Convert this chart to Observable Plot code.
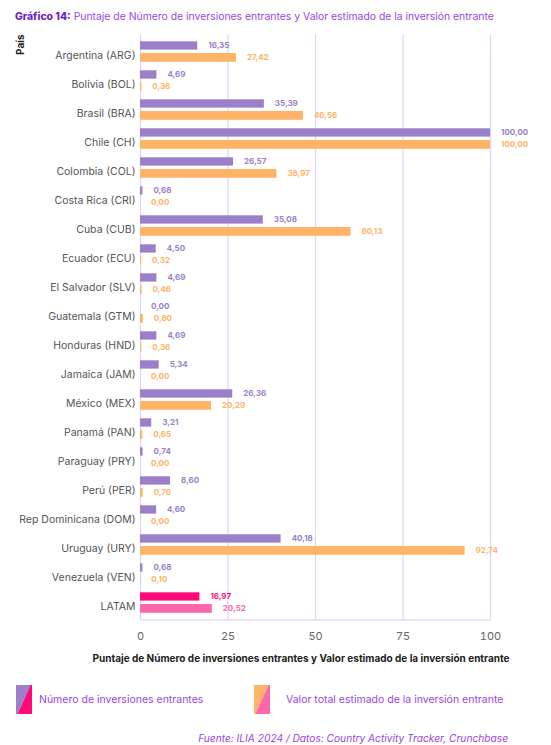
<!DOCTYPE html>
<html>
<head>
<meta charset="utf-8">
<script src="https://cdn.jsdelivr.net/npm/d3@7"></script>
<script src="https://cdn.jsdelivr.net/npm/@observablehq/plot@0.6"></script>
<style>
  html, body { margin: 0; padding: 0; background: #fff; }
  body { font-family: Inter, "Noto Sans", sans-serif; }
  #wrap { position: relative; width: 551px; height: 745px; overflow: hidden; }
  #title { position: absolute; left: 15px; top: 10px; font-size: 10.4px; line-height: 14px; color: #9a45e3; white-space: nowrap; }
  #title b { color: #6f1fcf; font-weight: 800; }
  #chart { position: absolute; left: 0; top: 30px; }
  .leg { position: absolute; top: 685px; display: flex; align-items: center; height: 29px; font-size: 10.5px; color: #9a45e3; white-space: nowrap; }
  .leg svg { display: block; }
  #footer { position: absolute; right: 43px; top: 731px; font-size: 10.2px; line-height: 14px; font-style: italic; color: #9a45e3; white-space: nowrap; }
</style>
</head>
<body>
<div id="wrap">
  <div id="title"><b>Gráfico 14:</b> Puntaje de Número de inversiones entrantes y Valor estimado de la inversión entrante</div>
  <div id="chart"></div>
  <div class="leg" id="leg1" style="left:16px;"></div>
  <div class="leg" id="leg2" style="left:254px;"></div>
  <div id="footer">Fuente: ILIA 2024 / Datos: Country Activity Tracker, Crunchbase</div>
</div>
<script>
const paises = ["Argentina (ARG)", "Bolivia (BOL)", "Brasil (BRA)", "Chile (CH)", "Colombia (COL)", "Costa Rica (CRI)", "Cuba (CUB)", "Ecuador (ECU)", "El Salvador (SLV)", "Guatemala (GTM)", "Honduras (HND)", "Jamaica (JAM)", "México (MEX)", "Panamá (PAN)", "Paraguay (PRY)", "Perú (PER)", "Rep Dominicana (DOM)", "Uruguay (URY)", "Venezuela (VEN)", "LATAM"];
const numeroInversiones = [16.35, 4.69, 35.39, 100.00, 26.57, 0.68, 35.08, 4.50, 4.69, 0.00, 4.69, 5.34, 26.36, 3.21, 0.74, 8.60, 4.60, 40.18, 0.68, 16.97];
const valorEstimado = [27.42, 0.36, 46.56, 100.00, 38.97, 0.00, 60.13, 0.32, 0.46, 0.80, 0.36, 0.00, 20.29, 0.65, 0.00, 0.76, 0.00, 92.74, 0.10, 20.52];
const xTicks = [0, 25, 50, 75, 100];
const serieNombres = ["Número de inversiones entrantes", "Valor total estimado de la inversión entrante"];

const C = {
  num: "#9b7fc8", val: "#ffb366", numL: "#ff0a78", valL: "#ff66ab",
  grid: "#dcd4fb"
};

const rows = paises.map((p, i) => ({
  pais: p,
  numero: numeroInversiones[i],
  valor: valorEstimado[i],
  kn: p === "LATAM" ? "numL" : "num",
  kv: p === "LATAM" ? "valL" : "val"
}));
const fmt = v => v.toFixed(2).replace(".", ",");

const chart = Plot.plot({
  width: 551,
  height: 640,
  marginLeft: 140,
  marginRight: 61,
  marginTop: 5,
  marginBottom: 50.7,
  style: { fontFamily: "Inter, 'Noto Sans', sans-serif", background: "transparent" },
  x: { domain: [0, 100] },
  y: { domain: paises, padding: 0 },
  color: { domain: ["num", "val", "numL", "valL"], range: [C.num, C.val, C.numL, C.valL] },
  marks: [
    Plot.ruleX(xTicks, { stroke: C.grid, strokeWidth: 1.2 }),
    Plot.frame({ anchor: "bottom", stroke: C.grid, strokeWidth: 1.2 }),
    Plot.barX(rows, { x: "numero", y: "pais", fill: "kn", insetTop: 4.3, insetBottom: 16.4 }),
    Plot.barX(rows, { x: "valor", y: "pais", fill: "kv", insetTop: 16, insetBottom: 4.2 }),
    Plot.text(rows, { x: "numero", y: "pais", text: d => fmt(d.numero), dx: 10.5, dy: -6.1, textAnchor: "start", fill: "kn", fontWeight: 700, fontSize: 8 }),
    Plot.text(rows, { x: "valor", y: "pais", text: d => fmt(d.valor), dx: 10.5, dy: 5.9, textAnchor: "start", fill: "kv", fontWeight: 700, fontSize: 8 }),
    Plot.axisY({ tickSize: 0, tickPadding: 5, fontSize: 10.5, dy: 4, label: null, color: "#555" }),
    Plot.axisX({ ticks: xTicks, tickSize: 0, tickPadding: 12, fontSize: 11, label: null, color: "#666" }),
    Plot.text(["País"], { frameAnchor: "top-left", rotate: -90, dx: -120, dy: -1, textAnchor: "end", lineAnchor: "middle", fontWeight: 700, fontSize: 10, fill: "#222" }),
    Plot.text(["Puntaje de Número de inversiones entrantes y Valor estimado de la inversión entrante"], { frameAnchor: "bottom-left", dx: -48, dy: 39, textAnchor: "start", lineAnchor: "middle", fontWeight: 700, fontSize: 10, fill: "#222" })
  ]
});
document.getElementById("chart").appendChild(chart);

function swatch(c1, c2) {
  return `<svg width="16" height="29" viewBox="0 0 16 29"><polygon points="0,0 14.5,0 1.5,29 0,29" fill="${c1}"/><polygon points="14.5,0 16,0 16,29 1.5,29" fill="${c2}"/></svg>`;
}
document.getElementById("leg1").innerHTML = swatch(C.num, C.numL) + `<span style="margin-left:7px">${serieNombres[0]}</span>`;
document.getElementById("leg2").innerHTML = swatch(C.val, C.valL) + `<span style="margin-left:16px">${serieNombres[1]}</span>`;
</script>
</body>
</html>
